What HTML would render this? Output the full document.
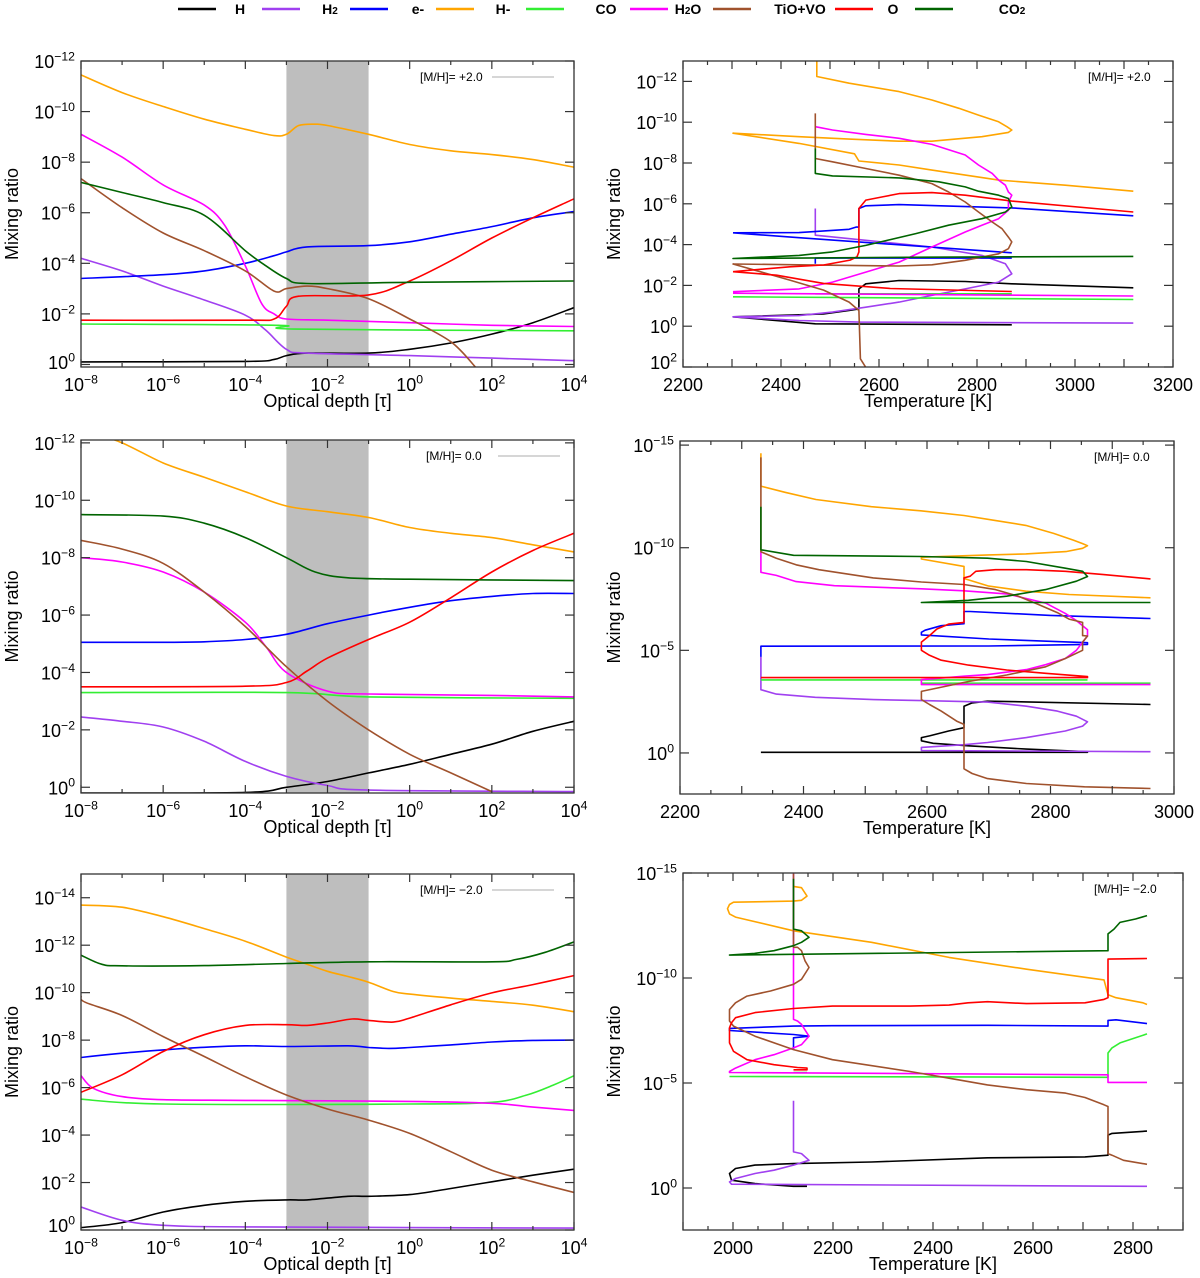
<!DOCTYPE html>
<html><head><meta charset="utf-8">
<style>
html,body{margin:0;padding:0;background:#fff;}
svg{display:block;font-family:"Liberation Sans",Arial,sans-serif;}
</style></head>
<body>
<svg id="fig" width="1200" height="1278" viewBox="0 0 1200 1278" xmlns="http://www.w3.org/2000/svg">
<g id="legend"></g>
<g id="panels"></g>
</svg>
<script>
// ---------- Legend ----------
const speciesNames = ["H","H2","e-","H-","CO","H2O","TiO+VO","O","CO2"];
const speciesColors = ["#000000","#a040f0","#0000ff","#ffa500","#33ee33","#ff00ff","#a0522d","#ff0000","#006400"];

// ---------- Top-left: optical depth, [M/H]=+2.0 (x = log10 tau, y = exponent) ----------
const tl_H   = [[-8,-0.1],[-4,-0.12],[-3.3,-0.2],[-3,-0.35],[-2.5,-0.45],[-1,-0.45],[0,-0.6],[1,-0.85],[2,-1.2],[3,-1.65],[4,-2.25]];
const tl_H2  = [[-8,-4.2],[-7,-3.7],[-6,-3.1],[-5,-2.55],[-4,-1.95],[-3.5,-1.35],[-3,-0.6],[-2.5,-0.45],[0,-0.35],[2,-0.25],[4,-0.15]];
const tl_e   = [[-8,-3.4],[-6,-3.55],[-5,-3.7],[-4,-4.0],[-3.3,-4.3],[-3,-4.45],[-2.5,-4.65],[-1,-4.7],[0,-4.85],[1,-5.15],[2,-5.45],[3,-5.8],[4,-6.05]];
const tl_Hm  = [[-8,-11.45],[-7,-10.75],[-6,-10.2],[-5,-9.7],[-4,-9.3],[-3.3,-9.05],[-3,-9.1],[-2.7,-9.45],[-2.3,-9.5],[-2,-9.45],[-1,-9.1],[0,-8.7],[1,-8.45],[2,-8.3],[3,-8.1],[4,-7.8]];
const tl_CO  = [[-8,-1.6],[-3.2,-1.55],[-2.8,-1.4],[4,-1.33]];
const tl_H2O = [[-8,-9.1],[-7,-8.2],[-6,-7.1],[-5,-6.3],[-4.5,-5.5],[-4,-3.9],[-3.6,-2.4],[-3.3,-2.0],[-3,-1.8],[-2,-1.75],[0,-1.65],[2,-1.55],[4,-1.5]];
const tl_TiO = [[-8,-7.35],[-7,-6.2],[-6,-5.2],[-5,-4.5],[-4,-3.7],[-3.3,-2.9],[-3,-3.0],[-2.5,-3.1],[-2,-3.0],[-1,-2.6],[0,-1.8],[1,-0.9],[1.6,0.1]];
const tl_O   = [[-8,-1.75],[-4,-1.75],[-3.3,-1.8],[-3,-2.3],[-2.7,-2.7],[-1,-2.75],[0,-3.3],[1,-4.1],[2,-5.0],[3,-5.8],[4,-6.55]];
const tl_CO2 = [[-8,-7.2],[-7,-6.8],[-6,-6.4],[-5,-5.9],[-4,-4.5],[-3.5,-3.9],[-3,-3.4],[-2.5,-3.2],[0,-3.25],[4,-3.3]];

// ---------- Middle-left: [M/H]=0.0 ----------
const ml_H   = [[-8,0.2],[-4,0.18],[-3,0.0],[-2,-0.2],[-1,-0.5],[0,-0.8],[1,-1.15],[2,-1.5],[3,-1.95],[4,-2.3]];
const ml_H2  = [[-8,-2.45],[-7,-2.3],[-6,-2.1],[-5,-1.6],[-4,-0.9],[-3,-0.38],[-2,-0.06],[-1,0.1],[4,0.15]];
const ml_e   = [[-8,-5.05],[-6,-5.05],[-5,-5.07],[-4,-5.15],[-3,-5.33],[-2,-5.7],[-1,-6.0],[0,-6.27],[1,-6.5],[2,-6.65],[3,-6.75],[4,-6.75]];
const ml_Hm  = [[-8,-12.5],[-7,-12.0],[-6,-11.3],[-5,-10.8],[-4,-10.3],[-3,-9.8],[-2,-9.6],[-1,-9.4],[0,-9.05],[1,-8.85],[2,-8.7],[3,-8.45],[4,-8.2]];
const ml_CO  = [[-8,-3.3],[-3,-3.3],[-1,-3.15],[4,-3.1]];
const ml_H2O = [[-8,-8.0],[-7,-7.85],[-6,-7.5],[-5,-6.8],[-4,-5.75],[-3.5,-4.9],[-3,-4.0],[-2,-3.35],[-1,-3.25],[2,-3.2],[4,-3.15]];
const ml_TiO = [[-8,-8.6],[-7,-8.3],[-6,-7.8],[-5,-6.8],[-4,-5.6],[-3,-4.2],[-2,-3.0],[-1,-2.0],[0,-1.15],[1,-0.5],[2,0.15]];
const ml_O   = [[-8,-3.5],[-4,-3.52],[-3,-3.65],[-2.5,-4.05],[-2,-4.5],[-1,-5.15],[0,-5.75],[1,-6.6],[2,-7.5],[3,-8.25],[4,-8.85]];
const ml_CO2 = [[-8,-9.5],[-6,-9.45],[-5,-9.2],[-4,-8.7],[-3,-8.0],[-2.3,-7.5],[-1.5,-7.3],[0,-7.25],[4,-7.2]];

// ---------- Bottom-left: [M/H]=-2.0 ----------
const bl_H   = [[-8,-0.1],[-7,-0.31],[-6,-0.76],[-5,-1.04],[-4,-1.21],[-3,-1.27],[-2.5,-1.27],[-1.5,-1.42],[-1,-1.42],[0,-1.49],[1,-1.75],[2,-2.03],[3,-2.31],[4,-2.56]];
const bl_H2  = [[-8,-0.97],[-7,-0.41],[-6,-0.2],[-4,-0.13],[4,-0.08]];
const bl_e   = [[-8,-7.27],[-7,-7.45],[-6,-7.59],[-5,-7.7],[-4,-7.76],[-3,-7.73],[-1.5,-7.76],[-1,-7.69],[-0.5,-7.65],[0,-7.69],[1,-7.8],[2,-7.92],[3,-7.99],[4,-8.0]];
const bl_Hm  = [[-8,-13.69],[-7,-13.6],[-6,-13.2],[-5,-12.7],[-4,-12.17],[-3,-11.5],[-2.5,-11.2],[-2,-10.9],[-1.5,-10.68],[-1,-10.44],[-0.4,-10.05],[0,-9.94],[1,-9.77],[2,-9.63],[3,-9.47],[4,-9.2]];
const bl_CO  = [[-8,-5.51],[-6,-5.31],[0,-5.31],[2,-5.38],[2.85,-5.69],[3.5,-6.11],[4,-6.5]];
const bl_H2O = [[-8,-6.5],[-7.7,-5.97],[-7,-5.62],[-6,-5.49],[-4,-5.46],[0,-5.42],[2,-5.34],[3,-5.18],[4,-5.04]];
const bl_TiO = [[-8,-9.85],[-7.9,-9.6],[-7,-9.04],[-6,-8.15],[-5,-7.31],[-4,-6.46],[-3,-5.69],[-2,-5.1],[-1,-4.63],[0,-4.07],[1,-3.3],[2,-2.52],[3,-2.03],[4,-1.58]];
const bl_O   = [[-8,-5.8],[-7,-6.54],[-6,-7.52],[-5,-8.23],[-4,-8.62],[-3,-8.65],[-2.5,-8.62],[-2,-8.72],[-1.4,-8.89],[-1,-8.83],[-0.4,-8.76],[0,-8.93],[1,-9.49],[2,-9.99],[3,-10.34],[4,-10.72]];
const bl_CO2 = [[-8,-11.58],[-7.5,-11.2],[-7,-11.13],[-5,-11.14],[-3,-11.23],[-1,-11.3],[2,-11.3],[2.6,-11.4],[3.3,-11.7],[4,-12.14]];

// ---------- Top-right: temperature, [M/H]=+2.0 (x = K, y = exponent; null = break) ----------
const tr_H   = [[2302,-0.46],[2487,-0.6],[2539,-0.77],[2559,-0.85],[2559,-1.83],[2573,-2.08],[2641,-2.24],[2776,-2.19],[2871,-2.08],[3119,-1.88],null,[2302,-0.46],[2470,-0.12],[2871,-0.07]];
const tr_H2  = [[2470,-5.77],[2470,-4.46],[2573,-4.21],[2708,-3.88],[2810,-3.47],[2858,-3.06],[2871,-2.57],[2844,-2.16],[2776,-1.83],[2708,-1.51],[2641,-1.18],[2573,-0.93],[2505,-0.69],[2437,-0.52],[2302,-0.46],[2437,-0.28],[2559,-0.2],[3119,-0.15]];
const tr_e   = [[2302,-4.58],[2437,-4.59],[2539,-4.75],[2553,-4.86],[2559,-4.86],[2559,-5.77],[2573,-5.9],[2641,-5.96],[2871,-5.8],[3119,-5.41],null,[2302,-4.58],[2437,-4.34],[2871,-3.6],null,[2470,-3.06],[2470,-3.34],[2871,-3.34]];
const tr_Hm  = [[2473,-13.06],[2473,-12.24],[2539,-11.91],[2641,-11.5],[2708,-11.09],[2763,-10.68],[2803,-10.35],[2844,-10.02],[2861,-9.78],[2871,-9.62],[2864,-9.5],[2810,-9.29],[2708,-9.07],[2641,-9.07],[2539,-9.17],[2437,-9.29],[2302,-9.46],[2437,-8.96],[2550,-8.45],[2559,-8.1],[2641,-7.9],[2708,-7.65],[2844,-7.16],[2980,-6.91],[3119,-6.62]];
const tr_CO  = [[2302,-1.44],[3119,-1.31],null,[2470,-1.59],[2871,-1.59]];
const tr_H2O = [[2470,-9.78],[2505,-9.62],[2573,-9.4],[2641,-9.21],[2708,-8.91],[2776,-8.39],[2803,-7.9],[2831,-7.49],[2844,-7.16],[2858,-6.91],[2864,-6.58],[2871,-6.42],[2864,-6.09],[2864,-5.68],[2844,-5.27],[2810,-4.95],[2776,-4.62],[2708,-3.88],[2641,-3.14],[2573,-2.65],[2505,-2.16],[2437,-1.83],[2302,-1.69],null,[2302,-1.62],[3119,-1.48]];
const tr_TiO = [[2470,-10.43],[2470,-8.22],[2505,-8.06],[2573,-7.73],[2641,-7.4],[2708,-6.99],[2742,-6.58],[2776,-6.09],[2803,-5.6],[2831,-5.11],[2851,-4.78],[2864,-4.37],[2871,-4.13],[2864,-3.8],[2844,-3.55],[2776,-3.23],[2708,-3.01],[2641,-2.95],[2437,-3.01],[2302,-3.05],[2418,-2.26],[2487,-1.77],[2539,-1.18],[2559,-0.77],[2562,1.6],[2575,2.1]];
const tr_O   = [[2302,-2.67],[2418,-2.91],[2487,-3.0],[2541,-3.24],[2555,-3.4],[2559,-3.64],[2559,-5.77],[2573,-6.18],[2607,-6.34],[2641,-6.5],[2708,-6.55],[2776,-6.42],[2871,-6.13],[3119,-5.6],null,[2302,-2.67],[2391,-2.5],[2487,-2.1],[2623,-1.85],[2871,-1.7]];
const tr_CO2 = [[2470,-8.71],[2470,-7.49],[2505,-7.37],[2641,-7.27],[2722,-7.08],[2776,-6.83],[2803,-6.62],[2844,-6.42],[2864,-6.26],[2871,-5.85],[2858,-5.6],[2810,-5.27],[2742,-4.95],[2675,-4.54],[2573,-3.96],[2505,-3.64],[2437,-3.47],[2302,-3.32],[2700,-3.38],[3119,-3.42]];

// ---------- Middle-right: [M/H]=0.0 ----------
const mr_H   = [[2962,-2.36],[2761,-2.49],[2698,-2.52],[2673,-2.44],[2660,-2.28],[2660,-1.23],[2635,-1.07],[2604,-0.83],[2591,-0.75],[2591,-0.59],[2610,-0.47],[2667,-0.35],[2761,-0.19],[2860,-0.06],[2860,-0.03],[2331,-0.03]];
const mr_H2  = [[2331,-4.68],[2331,-3.08],[2356,-2.87],[2419,-2.71],[2513,-2.6],[2591,-2.55],[2698,-2.48],[2761,-2.28],[2811,-2.04],[2842,-1.79],[2860,-1.52],[2852,-1.31],[2824,-1.07],[2761,-0.75],[2698,-0.51],[2660,-0.4],[2591,-0.27],[2591,-0.12],[2962,-0.06]];
const mr_e   = [[2962,-6.55],[2800,-6.7],[2670,-6.89],[2660,-6.89],[2660,-6.3],[2623,-6.2],[2597,-5.98],[2591,-5.88],[2591,-5.75],[2700,-5.55],[2860,-5.37],[2860,-5.29],[2700,-5.21],[2331,-5.2],[2331,-4.68]];
const mr_Hm  = [[2331,-14.6],[2331,-13.0],[2370,-12.7],[2420,-12.35],[2510,-12.0],[2590,-11.8],[2660,-11.57],[2710,-11.33],[2760,-11.09],[2805,-10.7],[2837,-10.37],[2852,-10.2],[2860,-10.1],[2852,-9.97],[2825,-9.81],[2760,-9.7],[2700,-9.65],[2591,-9.54],[2591,-9.45],[2660,-9.09],[2660,-8.5],[2700,-8.13],[2760,-7.88],[2830,-7.72],[2962,-7.56]];
const mr_CO  = [[2331,-3.56],[2860,-3.56],null,[2591,-3.4],[2962,-3.4]];
const mr_H2O = [[2331,-9.8],[2331,-8.8],[2356,-8.65],[2388,-8.35],[2450,-8.15],[2591,-8.0],[2660,-7.9],[2729,-7.75],[2792,-7.3],[2824,-6.8],[2842,-6.45],[2860,-6.0],[2860,-5.7],[2852,-5.4],[2842,-5.0],[2824,-4.6],[2792,-4.3],[2761,-4.06],[2698,-3.82],[2660,-3.74],[2591,-3.57],[2591,-3.33],[2962,-3.33]];
const mr_TiO = [[2331,-14.4],[2331,-9.8],[2356,-9.49],[2388,-9.17],[2425,-8.93],[2513,-8.53],[2591,-8.33],[2660,-8.21],[2711,-7.96],[2748,-7.64],[2780,-7.24],[2811,-6.84],[2830,-6.52],[2852,-6.36],[2852,-5.72],[2860,-5.7],[2852,-5.4],[2852,-5.0],[2824,-4.6],[2792,-4.2],[2729,-3.8],[2667,-3.48],[2616,-3.16],[2591,-3.0],[2591,-2.6],[2604,-2.36],[2623,-2.04],[2648,-1.55],[2660,-1.39],[2660,0.77],[2673,1.0],[2698,1.25],[2761,1.49],[2855,1.65],[2962,1.73]];
const mr_O   = [[2962,-8.48],[2886,-8.69],[2824,-8.85],[2761,-8.93],[2711,-8.93],[2679,-8.85],[2670,-8.61],[2660,-8.53],[2660,-6.36],[2635,-6.28],[2616,-6.04],[2604,-5.72],[2591,-5.4],[2591,-5.0],[2604,-4.76],[2623,-4.52],[2667,-4.28],[2729,-4.04],[2792,-3.88],[2860,-3.72],[2860,-3.67],[2331,-3.67]];
const mr_CO2 = [[2331,-12.0],[2331,-9.9],[2384,-9.63],[2591,-9.57],[2698,-9.49],[2761,-9.33],[2824,-9.0],[2852,-8.85],[2860,-8.6],[2842,-8.37],[2792,-7.96],[2729,-7.64],[2667,-7.44],[2591,-7.33],[2962,-7.33]];

// ---------- Bottom-right: [M/H]=-2.0 ----------
const br_H   = [[2828,-2.71],[2758,-2.6],[2750,-2.52],[2750,-1.56],[2704,-1.48],[2509,-1.44],[2277,-1.24],[2121,-1.16],[2044,-1.09],[2005,-0.93],[1993,-0.69],[1997,-0.37],[2044,-0.21],[2121,-0.08],[2148,-0.08]];
const br_H2  = [[2121,-4.15],[2121,-1.72],[2137,-1.64],[2152,-1.32],[2121,-1.09],[2082,-0.85],[2044,-0.69],[2005,-0.45],[1993,-0.29],[1997,-0.18],[2828,-0.08]];
const br_e   = [[2828,-7.83],[2766,-8.01],[2750,-7.98],[2750,-7.71],[2509,-7.75],[2199,-7.73],[2121,-7.71],[1993,-7.6],[1993,-7.5],[2121,-7.31],[2152,-7.23],[2121,-7.15],[2121,-6.59]];
const br_Hm  = [[2121,-14.36],[2137,-14.3],[2148,-13.9],[2137,-13.7],[2121,-13.66],[2001,-13.61],[1993,-13.5],[1989,-13.3],[1993,-13.05],[2005,-12.9],[2121,-12.25],[2277,-11.7],[2432,-10.98],[2587,-10.42],[2742,-9.91],[2750,-9.2],[2766,-9.06],[2820,-8.82],[2828,-8.74]];
const br_CO  = [[1993,-5.31],[2750,-5.27],[2750,-6.43],[2758,-6.67],[2774,-6.91],[2805,-7.15],[2828,-7.34],null,[2121,-5.5],[2148,-5.5]];
const br_H2O = [[2121,-14.97],[2121,-8.03],[2129,-7.95],[2137,-7.79],[2152,-7.23],[2137,-6.83],[2121,-6.67],[2082,-6.35],[2044,-6.11],[2005,-5.71],[1993,-5.55],[1993,-5.5],[2750,-5.39],[2750,-5.03],[2828,-5.03]];
const br_TiO = [[2121,-14.97],[2121,-11.46],[2129,-11.46],[2137,-11.3],[2144,-10.82],[2152,-10.5],[2137,-9.94],[2121,-9.7],[2075,-9.38],[2028,-9.14],[2005,-8.82],[1993,-8.5],[1993,-7.95],[2001,-7.71],[2044,-7.23],[2121,-6.59],[2199,-6.11],[2354,-5.55],[2432,-5.23],[2509,-4.91],[2587,-4.68],[2665,-4.52],[2704,-4.31],[2742,-3.96],[2750,-3.88],[2750,-1.64],[2758,-1.56],[2781,-1.32],[2828,-1.13]];
const br_O   = [[2828,-10.93],[2750,-10.9],[2750,-9.06],[2742,-8.98],[2704,-8.82],[2587,-8.78],[2509,-8.87],[2470,-8.82],[2432,-8.71],[2354,-8.66],[2199,-8.66],[2121,-8.55],[2044,-8.35],[2005,-8.11],[1997,-7.87],[1993,-7.63],[1993,-6.91],[2001,-6.51],[2028,-6.11],[2082,-5.87],[2129,-5.74],[2148,-5.71],[2148,-5.63],[2121,-5.63]];
const br_CO2 = [[2121,-14.73],[2121,-12.33],[2137,-12.25],[2152,-11.94],[2137,-11.7],[2121,-11.54],[2082,-11.3],[2043,-11.17],[1993,-11.09],[2750,-11.3],[2750,-12.1],[2762,-12.33],[2774,-12.65],[2805,-12.81],[2828,-12.97]];

// ---------- Tick labels ----------
const leftXTickExps = [-8,-6,-4,-2,0,2,4];
const tlYTickExps = [-12,-10,-8,-6,-4,-2,0];
const blYTickExps = [-14,-12,-10,-8,-6,-4,-2,0];
const trYTickExps = [-12,-10,-8,-6,-4,-2,0,2];
const rYTickExps = [-15,-10,-5,0];
const trXTicks = [2200,2400,2600,2800,3000,3200];
const mrXTicks = [2200,2400,2600,2800,3000];
const brXTicks = [2000,2200,2400,2600,2800];
const metallicityLabels = ["+2.0","0.0","\u22122.0"];

const NS = "http://www.w3.org/2000/svg";
function mk(tag, attrs, parent){
  const e = document.createElementNS(NS, tag);
  for (const k in attrs) e.setAttribute(k, attrs[k]);
  parent.appendChild(e);
  return e;
}

// legend
const legend = document.getElementById('legend');
const legLineX = [178,262,350,436,526,630,713,835,915];
const legTextX = [240,330,418,503,606,688,800,893,1012];
speciesNames.forEach((n,i)=>{
  const g = mk('g',{},legend);
  
  
  mk('line',{x1:legLineX[i],x2:legLineX[i]+38,y1:9,y2:9,stroke:speciesColors[i],'stroke-width':2.5},g);
  const t = mk('text',{x:legTextX[i],y:14,'font-size':14,'font-weight':'bold','text-anchor':'middle'},g);
  if (n==="H2"||n==="H2O"||n==="CO2"){
    const parts = n==="H2"?["H","2",""]:n==="H2O"?["H","2","O"]:["CO","2",""];
    t.appendChild(document.createTextNode(parts[0]));
    const s = mk('tspan',{'font-size':10},t); s.textContent=parts[1];
    if(parts[2]) t.appendChild(document.createTextNode(parts[2]));
  } else t.textContent = n;
});

function pow10Label(parent, x, y, exp, anchor, fs){
  const t = mk('text',{x:x,y:y,'font-size':fs,'text-anchor':anchor},parent);
  t.appendChild(document.createTextNode('10'));
  const s = mk('tspan',{'font-size':fs*0.68,dy:-fs*0.42},t);
  s.textContent = exp<0 ? '\u2212'+(-exp) : String(exp);
  return t;
}

function smoothPath(pts){
  // Catmull-Rom through pixel points
  if (pts.length<3) return pts.map((p,i)=>(i?'L':'M')+p[0].toFixed(1)+','+p[1].toFixed(1)).join('');
  let d = 'M'+pts[0][0].toFixed(1)+','+pts[0][1].toFixed(1);
  for (let i=0;i<pts.length-1;i++){
    const p0=pts[Math.max(0,i-1)], p1=pts[i], p2=pts[i+1], p3=pts[Math.min(pts.length-1,i+2)];
    const c1=[p1[0]+(p2[0]-p0[0])/6, p1[1]+(p2[1]-p0[1])/6];
    const c2=[p2[0]-(p3[0]-p1[0])/6, p2[1]-(p3[1]-p1[1])/6];
    d += 'C'+c1[0].toFixed(1)+','+c1[1].toFixed(1)+' '+c2[0].toFixed(1)+','+c2[1].toFixed(1)+' '+p2[0].toFixed(1)+','+p2[1].toFixed(1);
  }
  return d;
}

function drawPanel(p){
  const g = mk('g',{},document.getElementById('panels'));
  
  
  const sx = v => p.x0 + (v - p.xd[0])/(p.xd[1]-p.xd[0])*(p.x1-p.x0);
  const sy = v => p.y0 + (v - p.yd[0])/(p.yd[1]-p.yd[0])*(p.y1-p.y0);
  const clipId = 'clip-'+p.name;
  const cp = mk('clipPath',{id:clipId},g);
  mk('rect',{x:p.x0,y:p.y0,width:p.x1-p.x0,height:p.y1-p.y0},cp);
  if (p.shade){
    const r = mk('rect',{x:sx(p.shade[0]),y:p.y0,width:sx(p.shade[1])-sx(p.shade[0]),height:p.y1-p.y0,fill:'#bebebe'},g);
    
    
  }
  const lines = mk('g',{'clip-path':'url(#'+clipId+')'},g);
  p.series.forEach((arr,i)=>{
    let d='';
    if (p.logx){
      d = smoothPath(arr.map(pt=>[sx(pt[0]),sy(pt[1])]));
    } else {
      let pen=false;
      arr.forEach(pt=>{
        if(pt===null){pen=false;return;}
        d += (pen?'L':'M')+sx(pt[0]).toFixed(1)+','+sy(pt[1]).toFixed(1);
        pen=true;
      });
    }
    const path = mk('path',{d:d,fill:'none',stroke:speciesColors[i],'stroke-width':1.6,'stroke-linejoin':'round'},lines);
    
    
  });
  const fr = mk('rect',{x:p.x0,y:p.y0,width:p.x1-p.x0,height:p.y1-p.y0,fill:'none',stroke:'#333','stroke-width':1.3},g);
  
  
  const ticks = mk('g',{stroke:'#333','stroke-width':1.2},g);
  for (let v=p.xd[0]; v<=p.xd[1]+1e-9; v+=p.xMinor){
    const x = sx(v);
    const major = Math.abs(Math.round(v/p.xMajor)*p.xMajor - v)<1e-6;
    const L = major?8:4;
    mk('line',{x1:x,x2:x,y1:p.y1,y2:p.y1-L},ticks);
    mk('line',{x1:x,x2:x,y1:p.y0,y2:p.y0+L},ticks);
  }
  const yl = mk('g',{},g);
  
  
  p.yTicks.forEach(v=>{
    const y = sy(v);
    mk('line',{x1:p.x0,x2:p.x0+9,y1:y,y2:y},ticks);
    mk('line',{x1:p.x1,x2:p.x1-9,y1:y,y2:y},ticks);
    pow10Label(yl, p.x0-6, Math.min(y+7, p.y1+2), v, 'end', 18);
  });
  const xl = mk('g',{},g);
  
  
  p.xTicks.forEach(v=>{
    if (p.logx) pow10Label(xl, sx(v), p.y1+24, v, 'middle', 18);
    else { const t = mk('text',{x:sx(v),y:p.y1+24,'font-size':18,'text-anchor':'middle'},xl); t.textContent=v; }
  });
  const xt = mk('text',{x:(p.x0+p.x1)/2,y:p.y1+40,'font-size':18,'text-anchor':'middle'},g);
  xt.textContent = p.xTitle;
  
  
  const ycx = p.yTitleX, ycy=(p.y0+p.y1)/2;
  const yt = mk('text',{x:ycx,y:ycy,'font-size':18,'text-anchor':'middle',transform:'rotate(-90 '+ycx+' '+ycy+')'},g);
  yt.textContent = 'Mixing ratio';
  
  
  const lab = mk('text',{x:p.labX,y:p.y0+20,'font-size':12},g);
  lab.textContent = '[M/H]= '+p.metal;
  
  
  if (p.logx) mk('line',{x1:p.labX+72,x2:p.labX+134,y1:p.y0+16,y2:p.y0+16,stroke:'#c8c8c8','stroke-width':1.5},g);
}

const leftCommon = {x0:81,x1:574,xd:[-8,4],xMinor:1,xMajor:2,logx:true,xTicks:leftXTickExps,shade:[-3,-1],xTitle:'Optical depth [\u03c4]',yTitleX:18,labX:420};
drawPanel(Object.assign({},leftCommon,{name:'panel-tau-mh-plus2',y0:61,y1:367,yd:[-12,0.1],yTicks:tlYTickExps,metal:metallicityLabels[0],
  series:[tl_H,tl_H2,tl_e,tl_Hm,tl_CO,tl_H2O,tl_TiO,tl_O,tl_CO2]}));
drawPanel(Object.assign({},leftCommon,{name:'panel-tau-mh-0',y0:440,y1:793,yd:[-12.1,0.2],yTicks:tlYTickExps,metal:metallicityLabels[1],labX:426,
  series:[ml_H,ml_H2,ml_e,ml_Hm,ml_CO,ml_H2O,ml_TiO,ml_O,ml_CO2]}));
drawPanel(Object.assign({},leftCommon,{name:'panel-tau-mh-minus2',y0:874,y1:1230,yd:[-15,0],yTicks:blYTickExps,metal:metallicityLabels[2],
  series:[bl_H,bl_H2,bl_e,bl_Hm,bl_CO,bl_H2O,bl_TiO,bl_O,bl_CO2]}));

const rightCommon = {xMinor:50,xMajor:100,logx:false,xTitle:'Temperature [K]',yTitleX:620};
drawPanel(Object.assign({},rightCommon,{name:'panel-temp-mh-plus2',x0:683,x1:1173,xd:[2200,3200],xTicks:trXTicks,y0:61,y1:367,yd:[-13,2],yTicks:trYTickExps,metal:metallicityLabels[0],labX:1088,
  series:[tr_H,tr_H2,tr_e,tr_Hm,tr_CO,tr_H2O,tr_TiO,tr_O,tr_CO2]}));
drawPanel(Object.assign({},rightCommon,{name:'panel-temp-mh-0',x0:680,x1:1174,xd:[2200,3000],xTicks:mrXTicks,y0:441,y1:794,yd:[-15.2,2],yTicks:rYTickExps,metal:metallicityLabels[1],labX:1094,
  series:[mr_H,mr_H2,mr_e,mr_Hm,mr_CO,mr_H2O,mr_TiO,mr_O,mr_CO2]}));
drawPanel(Object.assign({},rightCommon,{name:'panel-temp-mh-minus2',x0:683,x1:1183,xd:[1900,2900],xTicks:brXTicks,y0:873,y1:1230,yd:[-15,2],yTicks:rYTickExps,metal:metallicityLabels[2],labX:1094,
  series:[br_H,br_H2,br_e,br_Hm,br_CO,br_H2O,br_TiO,br_O,br_CO2]}));
</script>
</body></html>
